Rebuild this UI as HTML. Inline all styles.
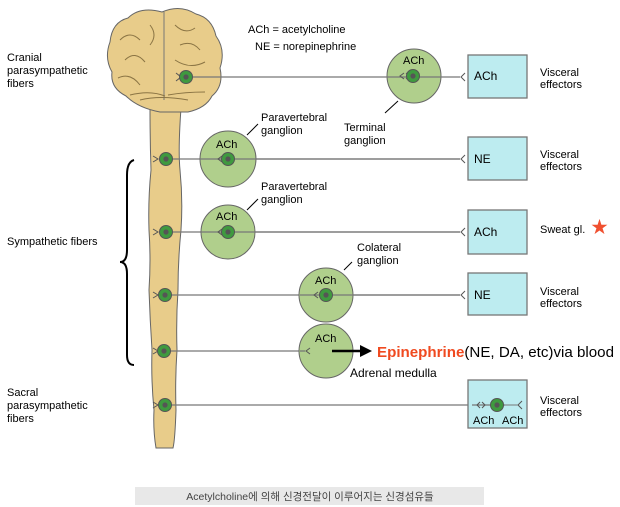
<!DOCTYPE html>
<html><head><meta charset="utf-8"><style>
body{margin:0;background:#fff;}
svg{display:block;font-family:"Liberation Sans","Noto Sans CJK KR",sans-serif;}
</style></head><body>
<svg width="620" height="507" viewBox="0 0 620 507" xmlns="http://www.w3.org/2000/svg">
<defs>
<g id="nr"><circle r="6.5" fill="#3f9a3f" stroke="#555" stroke-width="1"/><circle r="2.6" fill="#555"/></g>
</defs>
<path d="M150 108 L181 108 Q178 150 180 170 Q183 200 181 230 Q178 260 178 290 Q176 320 177 350 Q175 380 176 410 Q175 440 173 448 L156 448 Q153 430 154 410 Q151 380 152 350 Q150 320 149 290 Q151 260 149 230 Q148 200 151 170 Q150 140 150 108Z" fill="#e8cc8a" stroke="#666" stroke-width="1"/>
<path d="M162 12 Q140 6 128 18 Q112 22 110 42 Q104 58 112 72 Q110 88 126 96 Q138 108 160 112 L188 112 Q206 108 212 96 Q224 86 220 68 Q226 50 216 36 Q212 18 196 14 Q180 4 162 12Z" fill="#e8cc8a" stroke="#666" stroke-width="1"/>
<path d="M164 12 L164 100" stroke="#777" fill="none"/>
<path d="M120 40 Q130 30 140 40 M150 25 Q158 35 150 45 M125 60 Q135 50 145 62 M118 78 Q130 72 140 85 M175 25 Q185 35 195 28 M180 45 Q192 40 200 50 M175 60 Q190 70 205 62 M140 100 Q160 95 188 100 M130 95 Q150 90 165 96 M168 95 Q185 92 205 92" stroke="#8a7444" stroke-width="1" fill="none"/>
<path d="M134 160 Q127 162 127 175 L127 250 Q127 262 120 262 Q127 262 127 274 L127 355 Q127 365 134 365" stroke="#000" stroke-width="2" fill="none"/>
<g stroke="#777" stroke-width="1.3" fill="none">
<line x1="166" y1="159" x2="460" y2="159"/>
<line x1="166" y1="232" x2="460" y2="232"/>
<line x1="166" y1="295" x2="460" y2="295"/>
<line x1="166" y1="351" x2="305" y2="351"/>
<line x1="166" y1="405" x2="510" y2="405"/>
</g>
<g fill="#b0cf8c" stroke="#666" stroke-width="1">
<circle cx="414" cy="76" r="27"/>
<circle cx="228" cy="159" r="28"/>
<circle cx="228" cy="232" r="27"/>
<circle cx="326" cy="295" r="27"/>
<circle cx="326" cy="351" r="27"/>
</g>
<line x1="185" y1="77" x2="460" y2="77" stroke="#777" stroke-width="1.3"/>
<g stroke="#777" stroke-width="1.3"><line x1="200" y1="159" x2="460" y2="159"/><line x1="200" y1="232" x2="460" y2="232"/><line x1="300" y1="295" x2="460" y2="295"/><line x1="300" y1="351" x2="305" y2="351"/></g>
<g fill="#bdecf0" stroke="#777" stroke-width="1.3">
<rect x="468" y="55" width="59" height="43"/>
<rect x="468" y="137" width="59" height="43"/>
<rect x="468" y="210" width="59" height="44"/>
<rect x="468" y="273" width="59" height="42"/>
<rect x="468" y="380" width="59" height="48"/>
</g>
<line x1="472" y1="405" x2="505" y2="405" stroke="#777" stroke-width="1.3"/>
<g stroke="#555" stroke-width="1" fill="none">
<path d="M176 73 L181 77 L176 81"/>
<path d="M153 156 L158 159 L153 162"/><path d="M153 229 L158 232 L153 235"/><path d="M153 292 L158 295 L153 298"/><path d="M153 348 L158 351 L153 354"/><path d="M153 402 L158 405 L153 408"/>
<path d="M404 73 L400 76 L404 79"/><path d="M406 73 L410 76 L406 79"/>
<path d="M222 156 L218 159 L222 162"/><path d="M222 229 L218 232 L222 235"/>
<path d="M318 292 L314 295 L318 298"/><path d="M320 292 L324 295 L320 298"/>
<path d="M310 348 L306 351 L310 354"/>
<path d="M465 73 L461 77 L465 81"/><path d="M465 155 L461 159 L465 163"/><path d="M465 228 L461 232 L465 236"/><path d="M465 291 L461 295 L465 299"/>
<path d="M480 402 L477 405 L480 408"/><path d="M482 402 L485 405 L482 408"/><path d="M522 401 L518 405 L522 409"/>
</g>
<line x1="505" y1="405" x2="518" y2="405" stroke="#777"/>
<use href="#nr" x="186" y="77"/>
<use href="#nr" x="166" y="159"/><use href="#nr" x="166" y="232"/><use href="#nr" x="165" y="295"/><use href="#nr" x="164" y="351"/><use href="#nr" x="165" y="405"/>
<use href="#nr" x="413" y="76"/><use href="#nr" x="228" y="159"/><use href="#nr" x="228" y="232"/><use href="#nr" x="326" y="295"/><use href="#nr" x="497" y="405"/>
<g stroke="#000" stroke-width="1"><line x1="398" y1="101" x2="385" y2="113"/><line x1="247" y1="135" x2="258" y2="124"/><line x1="247" y1="210" x2="258" y2="199"/><line x1="344" y1="270" x2="352" y2="262"/></g>
<line x1="332" y1="351" x2="362" y2="351" stroke="#000" stroke-width="2.5"/>
<path d="M360 345 L372 351 L360 357Z" fill="#000"/>
<g font-size="11" fill="#000">
<text x="248" y="33">ACh = acetylcholine</text>
<text x="255" y="50">NE = norepinephrine</text>
<text x="7" y="61">Cranial</text><text x="7" y="74">parasympathetic</text><text x="7" y="87">fibers</text>
<text x="7" y="245">Sympathetic fibers</text>
<text x="7" y="396">Sacral</text><text x="7" y="409">parasympathetic</text><text x="7" y="422">fibers</text>
<text x="261" y="121">Paravertebral</text><text x="261" y="134">ganglion</text>
<text x="261" y="190">Paravertebral</text><text x="261" y="203">ganglion</text>
<text x="344" y="131">Terminal</text><text x="344" y="144">ganglion</text>
<text x="357" y="251">Colateral</text><text x="357" y="264">ganglion</text>
<text x="350" y="377" font-size="12">Adrenal medulla</text>
<text x="403" y="64">ACh</text><text x="216" y="148">ACh</text><text x="216" y="220">ACh</text><text x="315" y="284">ACh</text><text x="315" y="342">ACh</text>
<text x="474" y="80" font-size="12">ACh</text><text x="474" y="163" font-size="12">NE</text><text x="474" y="236" font-size="12">ACh</text><text x="474" y="299" font-size="12">NE</text>
<text x="473" y="424">ACh</text><text x="502" y="424">ACh</text>
<text x="540" y="76">Visceral</text><text x="540" y="88">effectors</text>
<text x="540" y="158">Visceral</text><text x="540" y="170">effectors</text>
<text x="540" y="233">Sweat gl.</text>
<text x="540" y="295">Visceral</text><text x="540" y="307">effectors</text>
<text x="540" y="404">Visceral</text><text x="540" y="416">effectors</text>
</g>
<text x="591" y="233" font-size="17" fill="#f05030">★</text>
<text x="377" y="357" font-size="15" textLength="237" lengthAdjust="spacingAndGlyphs"><tspan fill="#f04a20" font-weight="bold">Epinephrine</tspan><tspan fill="#000">(NE, DA, etc)via blood</tspan></text>
<rect x="135" y="487" width="349" height="18" fill="#e8e8e8"/>
<text x="310" y="500" font-size="10.5" fill="#444" text-anchor="middle">Acetylcholine에 의해 신경전달이 이루어지는 신경섬유들</text>
</svg>
</body></html>
